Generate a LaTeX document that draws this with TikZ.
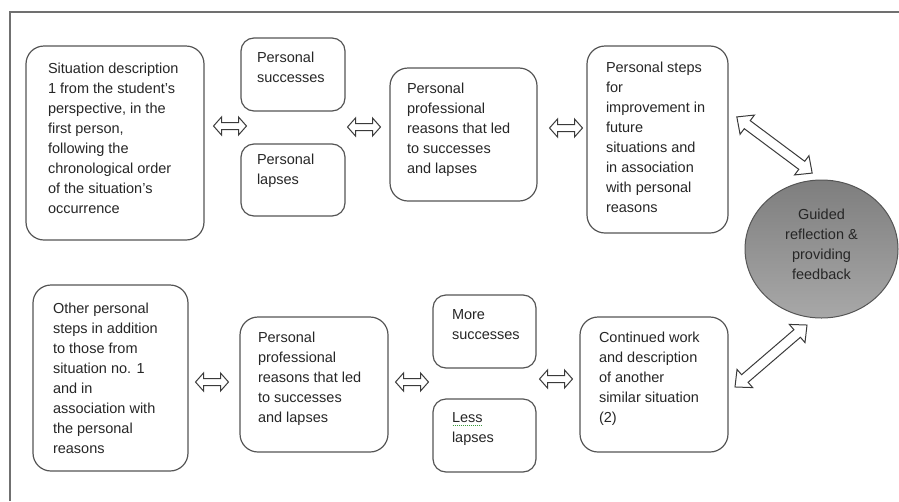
\documentclass[tikz,border=0pt]{standalone}
\usepackage{fontspec}
\setmainfont{Liberation Sans}
\usetikzlibrary{shapes.geometric}
\definecolor{edgecol}{HTML}{555555}
\definecolor{inkcol}{HTML}{262626}
\definecolor{framecol}{HTML}{707070}
\definecolor{arrcol}{HTML}{3A3A3A}
\definecolor{circtop}{HTML}{7E7E7E}
\definecolor{circbot}{HTML}{A8A8A8}
\definecolor{spellcol}{HTML}{3C9A3C}
\newcommand{\bxt}[5]{\parbox[c][#2][t]{#1}{\raggedright\leftskip=#3\relax\vspace*{#4}#5\par}}
\newcommand{\spellmark}[1]{\leavevmode\rlap{\raisebox{-3pt}{\textcolor{spellcol}{\leaders\hbox to 2pt{\hss\rule{1pt}{0.7pt}\hss}\hskip #1}}}}
\tikzset{
  box/.style={draw=edgecol, line width=1.2pt, rounded corners=18pt, inner sep=0pt,
    text=inkcol, font=\fontsize{14.5}{20}\selectfont},
  smallbox/.style={box, rounded corners=13pt},
  arrline/.style={draw=arrcol, line width=1pt, fill=white, line join=miter},
  pics/darr/.style n args={4}{code={
    \path[arrline] (-#1,0) -- (-#1+#2,#3) -- (-#1+#2,#4) -- (#1-#2,#4) -- (#1-#2,#3)
      -- (#1,0) -- (#1-#2,-#3) -- (#1-#2,-#4) -- (-#1+#2,-#4) -- (-#1+#2,-#3) -- cycle;
  }}
}
\begin{document}
\begin{tikzpicture}[x=1pt, y=-1pt]
\useasboundingbox (0,0) rectangle (899,501);
% frame
\draw[framecol, line width=1.5pt] (10,501) -- (10,12) -- (899,12);

% top row
\node[box] (b1) at (115,143) {\bxt{178pt}{194pt}{22pt}{17pt}{Situation description\\1 from the student's\\perspective, in the\\first person,\\following the\\chronological order\\of the situation's\\occurrence}};
\node[smallbox] (s1) at (293,74.5) {\bxt{104pt}{73pt}{16pt}{14pt}{Personal\\successes}};
\node[smallbox] (l1) at (293,180) {\bxt{104pt}{72pt}{16pt}{10pt}{Personal\\lapses}};
\node[box] (b3) at (463.5,134.5) {\bxt{147pt}{133pt}{17pt}{15pt}{Personal\\professional\\reasons that led\\to successes\\and lapses}};
\node[box] (b4) at (657.5,139.5) {\bxt{141pt}{187pt}{19pt}{16pt}{Personal steps\\for\\improvement in\\future\\situations and\\in association\\with personal\\reasons}};

% circle
\node[ellipse, draw=edgecol, line width=1pt, top color=circtop, bottom color=circbot,
  minimum width=153pt, minimum height=138pt, inner sep=0pt, text=inkcol, align=center,
  font=\fontsize{14.5}{20}\selectfont] (fb) at (821.5,249) {Guided\\reflection \&\\providing\\feedback\\[-11pt]\mbox{}};

% bottom row
\node[box] (b5) at (110.5,378) {\bxt{155pt}{186pt}{20pt}{18pt}{Other personal\\steps in addition\\to those from\\situation no. 1\\and in\\association with\\the personal\\reasons}};
\node[box] (b6) at (314,384.5) {\bxt{148pt}{135pt}{18pt}{15pt}{Personal\\professional\\reasons that led\\to successes\\and lapses}};
\node[smallbox] (s2) at (484.5,331.5) {\bxt{103pt}{73pt}{19pt}{15pt}{More\\successes}};
\node[smallbox] (l2) at (484.5,435.5) {\bxt{103pt}{73pt}{19pt}{14pt}{\spellmark{30pt}Less\\lapses}};
\node[box] (b7) at (654,384.5) {\bxt{148pt}{135pt}{19pt}{15pt}{Continued work\\and description\\of another\\similar situation\\(2)}};

% small double arrows
\pic at (230,126) {darr={16.5}{8}{9}{3.5}};
\pic at (364,127) {darr={16.5}{8}{9}{3.5}};
\pic at (566,128) {darr={16.5}{8}{9}{3.5}};
\pic at (212,382) {darr={16.5}{8}{9}{3.5}};
\pic at (412,382) {darr={16.5}{8}{9}{3.5}};
\pic at (556,379) {darr={16.5}{8}{9}{3.5}};

% big double arrows
\pic[rotate=-36.7] at (774.5,145) {darr={47}{13}{12}{5}};
\pic[rotate=40.7] at (771,356) {darr={47.5}{13}{12}{5}};
\end{tikzpicture}
\end{document}
